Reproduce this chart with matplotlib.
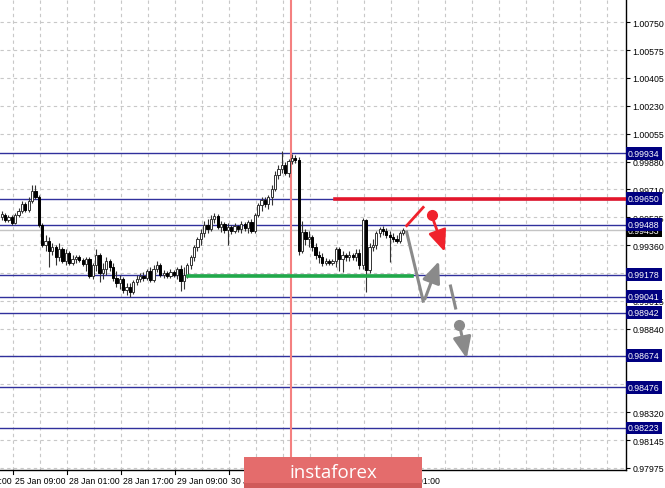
import numpy as np
import matplotlib
matplotlib.use("Agg")
import matplotlib.pyplot as plt
import matplotlib.transforms as mtransforms
from matplotlib.patches import Rectangle

# H1 candles, bar index 0..119 (open, high, low, close)
opens = [0.99537, 0.99549, 0.99518, 0.99537, 0.99499, 0.99549, 0.99574, 0.99618, 0.99580, 0.99636,
         0.99699, 0.99661, 0.99487, 0.99362, 0.99387, 0.99325, 0.99350, 0.99288, 0.99338, 0.99263,
         0.99313, 0.99250, 0.99275, 0.99288, 0.99269, 0.99244, 0.99275, 0.99169, 0.99238, 0.99300,
         0.99188, 0.99213, 0.99263, 0.99225, 0.99157, 0.99126, 0.99151, 0.99082, 0.99101, 0.99069,
         0.99132, 0.99151, 0.99169, 0.99157, 0.99200, 0.99144, 0.99213, 0.99238, 0.99176, 0.99188,
         0.99169, 0.99194, 0.99176, 0.99213, 0.99138, 0.99176, 0.99238, 0.99288, 0.99350, 0.99400,
         0.99437, 0.99487, 0.99462, 0.99524, 0.99543, 0.99475, 0.99493, 0.99456, 0.99475, 0.99450,
         0.99481, 0.99462, 0.99493, 0.99468, 0.99506, 0.99450, 0.99549, 0.99612, 0.99643, 0.99618,
         0.99661, 0.99711, 0.99799, 0.99836, 0.99861, 0.99811, 0.99886, 0.99904, 0.99892, 0.99325,
         0.99443, 0.99400, 0.99412, 0.99350, 0.99300, 0.99288, 0.99250, 0.99263, 0.99250, 0.99263,
         0.99338, 0.99275, 0.99300, 0.99288, 0.99300, 0.99288, 0.99313, 0.99238, 0.99518, 0.99207,
         0.99350, 0.99362, 0.99437, 0.99462, 0.99450, 0.99425, 0.99412, 0.99400, 0.99387, 0.99437]
highs = [0.99574, 0.99562, 0.99549, 0.99549, 0.99562, 0.99593, 0.99636, 0.99630, 0.99661, 0.99736,
         0.99736, 0.99674, 0.99499, 0.99425, 0.99412, 0.99375, 0.99362, 0.99375, 0.99350, 0.99338,
         0.99325, 0.99300, 0.99300, 0.99300, 0.99282, 0.99288, 0.99288, 0.99250, 0.99338, 0.99313,
         0.99250, 0.99288, 0.99275, 0.99250, 0.99200, 0.99176, 0.99163, 0.99126, 0.99126, 0.99144,
         0.99176, 0.99188, 0.99194, 0.99213, 0.99225, 0.99238, 0.99263, 0.99250, 0.99207, 0.99200,
         0.99213, 0.99207, 0.99225, 0.99238, 0.99225, 0.99250, 0.99300, 0.99362, 0.99412, 0.99462,
         0.99512, 0.99524, 0.99549, 0.99562, 0.99555, 0.99512, 0.99506, 0.99499, 0.99487, 0.99499,
         0.99487, 0.99512, 0.99506, 0.99518, 0.99524, 0.99562, 0.99624, 0.99661, 0.99661, 0.99674,
         0.99736, 0.99823, 0.99861, 0.99948, 0.99880, 0.99898, 0.99929, 0.99923, 0.99911, 0.99512,
         0.99462, 0.99450, 0.99425, 0.99375, 0.99325, 0.99313, 0.99282, 0.99275, 0.99275, 0.99350,
         0.99350, 0.99325, 0.99313, 0.99325, 0.99313, 0.99338, 0.99338, 0.99531, 0.99524, 0.99375,
         0.99400, 0.99450, 0.99475, 0.99481, 0.99468, 0.99450, 0.99437, 0.99425, 0.99450, 0.99468]
lows = [0.99518, 0.99506, 0.99506, 0.99487, 0.99493, 0.99537, 0.99562, 0.99568, 0.99568, 0.99624,
        0.99649, 0.99475, 0.99350, 0.99325, 0.99225, 0.99300, 0.99238, 0.99263, 0.99250, 0.99238,
        0.99238, 0.99238, 0.99250, 0.99257, 0.99232, 0.99200, 0.99157, 0.99151, 0.99200, 0.99132,
        0.99151, 0.99176, 0.99200, 0.99138, 0.99101, 0.99088, 0.99063, 0.99051, 0.99038, 0.99057,
        0.99113, 0.99132, 0.99138, 0.99144, 0.99132, 0.99132, 0.99194, 0.99163, 0.99157, 0.99157,
        0.99157, 0.99163, 0.99151, 0.99076, 0.99088, 0.99157, 0.99213, 0.99263, 0.99325, 0.99362,
        0.99412, 0.99437, 0.99450, 0.99499, 0.99462, 0.99443, 0.99437, 0.99362, 0.99431, 0.99437,
        0.99443, 0.99437, 0.99450, 0.99437, 0.99437, 0.99437, 0.99537, 0.99574, 0.99599, 0.99587,
        0.99612, 0.99699, 0.99774, 0.99811, 0.99799, 0.99786, 0.99867, 0.99873, 0.99300, 0.99313,
        0.99362, 0.99350, 0.99325, 0.99275, 0.99250, 0.99232, 0.99238, 0.99238, 0.99238, 0.99225,
        0.99200, 0.99194, 0.99263, 0.99263, 0.99269, 0.99263, 0.99213, 0.99213, 0.99070, 0.99188,
        0.99325, 0.99338, 0.99412, 0.99425, 0.99406, 0.99257, 0.99381, 0.99375, 0.99375, 0.99425]
closes = [0.99555, 0.99518, 0.99537, 0.99499, 0.99549, 0.99574, 0.99618, 0.99580, 0.99636, 0.99699,
          0.99661, 0.99487, 0.99362, 0.99387, 0.99325, 0.99350, 0.99288, 0.99338, 0.99263, 0.99313,
          0.99250, 0.99275, 0.99288, 0.99269, 0.99244, 0.99275, 0.99169, 0.99238, 0.99300, 0.99188,
          0.99213, 0.99263, 0.99225, 0.99157, 0.99126, 0.99151, 0.99082, 0.99101, 0.99069, 0.99132,
          0.99151, 0.99169, 0.99157, 0.99200, 0.99144, 0.99213, 0.99238, 0.99176, 0.99188, 0.99169,
          0.99194, 0.99176, 0.99213, 0.99138, 0.99176, 0.99238, 0.99288, 0.99350, 0.99400, 0.99437,
          0.99487, 0.99462, 0.99524, 0.99543, 0.99475, 0.99493, 0.99456, 0.99475, 0.99450, 0.99481,
          0.99462, 0.99493, 0.99468, 0.99506, 0.99450, 0.99549, 0.99612, 0.99643, 0.99618, 0.99661,
          0.99711, 0.99799, 0.99836, 0.99861, 0.99811, 0.99886, 0.99904, 0.99892, 0.99325, 0.99443,
          0.99400, 0.99412, 0.99350, 0.99300, 0.99288, 0.99250, 0.99263, 0.99250, 0.99263, 0.99338,
          0.99275, 0.99300, 0.99288, 0.99300, 0.99288, 0.99313, 0.99238, 0.99518, 0.99207, 0.99350,
          0.99362, 0.99437, 0.99462, 0.99450, 0.99425, 0.99412, 0.99400, 0.99387, 0.99437, 0.99453]

# price axis: grid values, and the tick labels that are not hidden by level boxes
grid_values = [1.00750, 1.00575, 1.00405, 1.00230, 1.00055, 0.99880, 0.99710, 0.99535, 0.99360,
               0.99190, 0.99015, 0.98840, 0.98670, 0.98495, 0.98320, 0.98145, 0.97975]
tick_values = [1.00750, 1.00575, 1.00405, 1.00230, 1.00055, 0.99880, 0.99710, 0.99535, 0.99360,
               0.99015, 0.98840, 0.98320, 0.98145, 0.97975]
level_values = [0.99934, 0.99650, 0.99488, 0.99178, 0.99041, 0.98942, 0.98674, 0.98476, 0.98223]
current_price = 0.99453

# time axis (bar index of each label)
time_ticks = [-12.5, 3.5, 19.5, 35.5, 51.5, 67.5, 83.5, 99.5, 115.5]
time_labels = ["24 Jan 17:00", "25 Jan 09:00", "28 Jan 01:00", "28 Jan 17:00", "29 Jan 09:00",
               "30 Jan 01:00", "30 Jan 17:00", "31 Jan 09:00", "1 Feb 01:00"]
grid_x = np.arange(3.5, 190, 8)
vline_bar = 85.7

# drawn levels / forecast
resist_level = 0.99650
resist_start = 98.8
support_level = 0.99168
support_start = 55.2
support_end = 121.6
red_seg_x = [120.0, 124.9]
red_seg_y = [0.99483, 0.99597]
red_dot = (127.6, 0.99549)
red_arrow = [(127.8, 0.99524), (131.3, 0.99320)]
grey_seg_x = [120.0, 124.9]
grey_seg_y = [0.99443, 0.99013]
grey_arrow1 = [(125.4, 0.99026), (129.6, 0.99262)]
grey_dash_x = [133.0, 134.5]
grey_dash_y = [0.99107, 0.98970]
grey_dot = (135.6, 0.98866)
grey_arrow2 = [(135.8, 0.98852), (137.8, 0.98655)]

fig = plt.figure(figsize=(6.65, 4.89), dpi=100)
ax = fig.add_axes([0, 18 / 489, 626 / 665, 471 / 489])
ax.set_xlim(-0.5, 185.0)
ax.set_ylim(0.97961, 1.00895)

# grid
for gx in grid_x:
    ax.axvline(gx, color="#c8c8c8", lw=0.8, ls=(0, (3, 3)), zorder=0)
for gv in grid_values:
    ax.axhline(gv, color="#c8c8c8", lw=0.8, ls=(0, (3, 3)), zorder=0)

# level lines
for lv in level_values:
    ax.axhline(lv, color="#30309c", lw=1.0, zorder=1)
ax.axhline(current_price, color="#c4c4c4", lw=1.0, zorder=1)
ax.axvline(vline_bar, color="#f48080", lw=1.5, zorder=1)

# candles
idx = np.arange(len(closes))
o = np.array(opens)
c = np.array(closes)
h = np.array(highs)
l = np.array(lows)
up = c >= o
ax.vlines(idx, l, h, color="#333333", lw=0.8, zorder=3)
ax.bar(idx[up], (c - o)[up], bottom=o[up], width=0.65, color="white",
       edgecolor="#333333", linewidth=0.7, zorder=4)
ax.bar(idx[~up], (o - c)[~up], bottom=c[~up], width=0.65, color="black",
       edgecolor="black", linewidth=0.7, zorder=4)

# resistance / support
ax.plot([resist_start, 185.0], [resist_level, resist_level], color="#e3162b", lw=2.6, zorder=5)
ax.plot([support_start, support_end], [support_level, support_level], color="#21a94a", lw=2.6, zorder=5)

# forecast drawings
head = "-|>,head_length=1.3,head_width=0.55"
ax.plot(red_seg_x, red_seg_y, color="#f0222c", lw=2.0, zorder=6)
ax.plot(*red_dot, "o", color="#f0222c", ms=7, zorder=6)
ax.annotate("", xy=red_arrow[1], xytext=red_arrow[0],
            arrowprops=dict(arrowstyle=head, color="#f0222c", lw=2.0, shrinkA=0, shrinkB=0),
            zorder=6)
ax.plot(grey_seg_x, grey_seg_y, color="#8a8a8a", lw=2.2, zorder=6)
ax.annotate("", xy=grey_arrow1[1], xytext=grey_arrow1[0],
            arrowprops=dict(arrowstyle=head, color="#8a8a8a", lw=2.2, shrinkA=0, shrinkB=0),
            zorder=6)
ax.plot(grey_dash_x, grey_dash_y, color="#8a8a8a", lw=2.2, zorder=6)
ax.plot(*grey_dot, "o", color="#8a8a8a", ms=7, zorder=6)
ax.annotate("", xy=grey_arrow2[1], xytext=grey_arrow2[0],
            arrowprops=dict(arrowstyle=head, color="#8a8a8a", lw=2.2, shrinkA=0, shrinkB=0),
            zorder=6)

# axes look
for side in ["left", "top"]:
    ax.spines[side].set_visible(False)
ax.spines["right"].set_linewidth(1.0)
ax.spines["bottom"].set_linewidth(1.0)
ax.yaxis.tick_right()
ax.set_yticks(tick_values)
ax.set_yticklabels([f"{v:.5f}" for v in tick_values], fontsize=6.3, family="Liberation Sans")
ax.tick_params(axis="y", length=3, width=0.8, pad=1.5)
ax.set_xticks([])

trans = mtransforms.blended_transform_factory(ax.transData, ax.transAxes)
for tx, tl in zip(time_ticks, time_labels):
    ax.plot([tx, tx], [0, -0.008], color="black", lw=0.8, transform=trans, clip_on=False)
    ax.text(tx + 0.4, -0.012, tl, transform=trans, ha="left", va="top", fontsize=6.3,
            family="Liberation Sans", clip_on=False)

# boxed price labels
ytrans = ax.get_yaxis_transform()
for lv in level_values:
    ax.annotate(f"{lv:.5f}", xy=(1.0, lv), xycoords=ytrans, xytext=(1.5, 0), textcoords="offset points",
                va="center", ha="left", fontsize=6.3, family="Liberation Sans", color="white",
                bbox=dict(boxstyle="square,pad=0.22", fc="#000080", ec="none"),
                annotation_clip=False, zorder=10)
ax.annotate(f"{current_price:.5f}", xy=(1.0, current_price), xycoords=ytrans, xytext=(1.5, 0),
            textcoords="offset points", va="center", ha="left", fontsize=6.3, family="Liberation Sans",
            color="white", bbox=dict(boxstyle="square,pad=0.22", fc="black", ec="none"),
            annotation_clip=False, zorder=9)

# watermark box
fig.patches.append(Rectangle((244 / 665, 0), 178 / 665, 31 / 489, transform=fig.transFigure,
                             fc="#e46c6c", ec="none", zorder=20))
fig.patches.append(Rectangle((244 / 665, 0), 178 / 665, 5 / 489, transform=fig.transFigure,
                             fc="#d05a5a", ec="none", zorder=21))
fig.text(333 / 665, 16 / 489, "instaforex", ha="center", va="center", fontsize=13.5,
         color="white", family="Open Sans", zorder=22)

fig.savefig("out.png", dpi=100, facecolor="white")
